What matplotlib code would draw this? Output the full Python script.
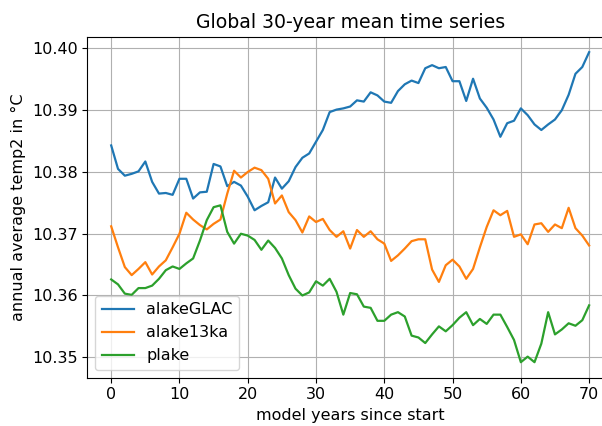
import matplotlib
matplotlib.use("Agg")
import matplotlib.pyplot as plt
import numpy as np

years = list(range(71))

alakeGLAC = [10.3843, 10.3805, 10.3794, 10.3797, 10.3801, 10.3817, 10.3784, 10.3765, 10.3766, 10.3763,
             10.3789, 10.3789, 10.3757, 10.3767, 10.3768, 10.3813, 10.3809, 10.3777, 10.3784, 10.3778,
             10.3760, 10.3738, 10.3745, 10.3751, 10.3791, 10.3773, 10.3785, 10.3808, 10.3823, 10.3830,
             10.3849, 10.3868, 10.3897, 10.3901, 10.3903, 10.3906, 10.3916, 10.3914, 10.3929, 10.3924,
             10.3914, 10.3912, 10.3931, 10.3942, 10.3948, 10.3944, 10.3968, 10.3973, 10.3968, 10.3970,
             10.3947, 10.3947, 10.3915, 10.3951, 10.3919, 10.3904, 10.3885, 10.3857, 10.3879, 10.3883,
             10.3903, 10.3892, 10.3877, 10.3868, 10.3877, 10.3885, 10.3900, 10.3925, 10.3959, 10.3970,
             10.3994]

alake13ka = [10.3712, 10.3678, 10.3646, 10.3633, 10.3643, 10.3654, 10.3634, 10.3647, 10.3657, 10.3678,
             10.3700, 10.3734, 10.3723, 10.3714, 10.3707, 10.3716, 10.3723, 10.3765, 10.3802, 10.3791,
             10.3800, 10.3807, 10.3803, 10.3789, 10.3749, 10.3762, 10.3735, 10.3722, 10.3702, 10.3728,
             10.3719, 10.3724, 10.3706, 10.3695, 10.3704, 10.3676, 10.3706, 10.3695, 10.3704, 10.3691,
             10.3684, 10.3656, 10.3665, 10.3676, 10.3688, 10.3691, 10.3691, 10.3642, 10.3622, 10.3649,
             10.3658, 10.3647, 10.3627, 10.3643, 10.3678, 10.3711, 10.3738, 10.3730, 10.3737, 10.3695,
             10.3699, 10.3683, 10.3715, 10.3717, 10.3703, 10.3715, 10.3709, 10.3742, 10.3709, 10.3697,
             10.3681]

plake = [10.3626, 10.3618, 10.3603, 10.3601, 10.3612, 10.3612, 10.3616, 10.3627, 10.3641, 10.3647,
         10.3643, 10.3652, 10.3660, 10.3689, 10.3722, 10.3743, 10.3746, 10.3703, 10.3684, 10.3700,
         10.3697, 10.3690, 10.3674, 10.3689, 10.3677, 10.3660, 10.3633, 10.3611, 10.3600, 10.3605,
         10.3623, 10.3616, 10.3627, 10.3606, 10.3569, 10.3604, 10.3602, 10.3582, 10.3580, 10.3559,
         10.3559, 10.3569, 10.3573, 10.3566, 10.3535, 10.3532, 10.3523, 10.3537, 10.3550, 10.3542,
         10.3552, 10.3564, 10.3573, 10.3552, 10.3562, 10.3554, 10.3569, 10.3569, 10.3549, 10.3528,
         10.3492, 10.3501, 10.3492, 10.3522, 10.3573, 10.3537, 10.3545, 10.3555, 10.3551, 10.3560,
         10.3584]

series_names = ["alakeGLAC", "alake13ka", "plake"]
xtick_vals = [0, 10, 20, 30, 40, 50, 60, 70]
ytick_labels = ["10.35", "10.36", "10.37", "10.38", "10.39", "10.40"]

plt.rcParams["font.size"] = 11.5

fig = plt.figure(figsize=(6.02, 4.26), dpi=100)
ax = fig.add_axes([0.145, 0.1134, 0.8733, 0.8005])
for name, vals in zip(series_names, [alakeGLAC, alake13ka, plake]):
    ax.plot(years, vals, label=name, linewidth=1.6)

ax.grid(True)
ax.set_xticks(xtick_vals)
ax.set_yticks([float(t) for t in ytick_labels])
ax.set_yticklabels(ytick_labels)
ax.set_xlabel("model years since start")
ax.set_ylabel("annual average temp2 in °C")
ax.set_title("Global 30-year mean time series", fontsize=13.6)
ax.legend(loc="lower left")

fig.savefig("out.png", dpi=100)
